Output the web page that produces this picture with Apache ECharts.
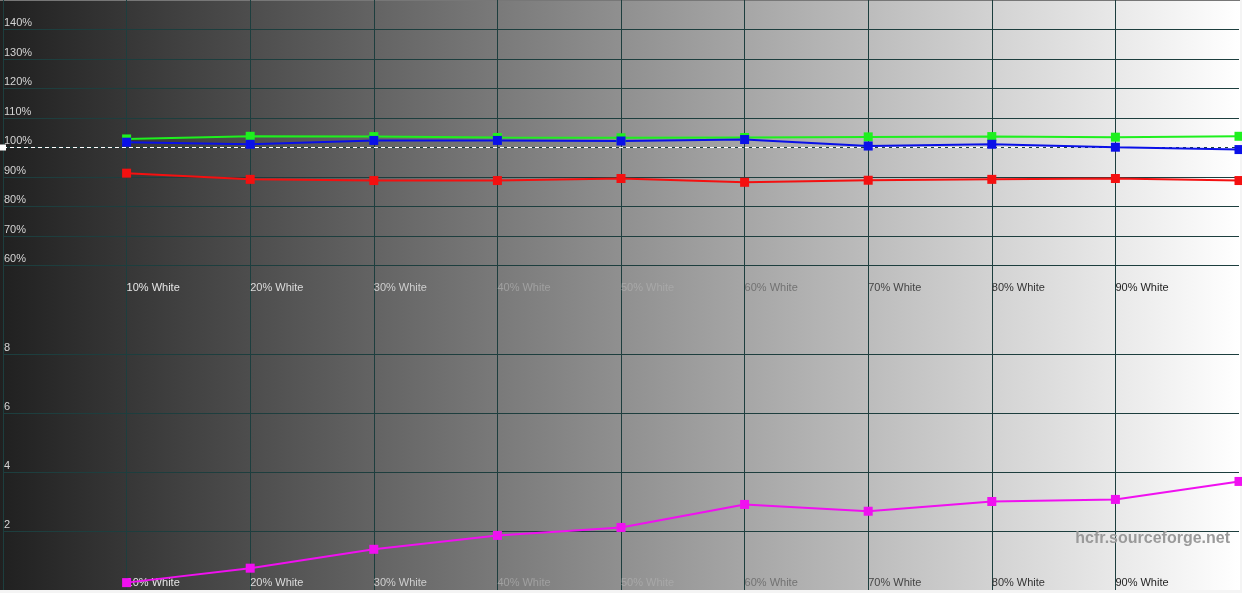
<!DOCTYPE html>
<html>
<head>
<meta charset="utf-8">
<script src="https://cdn.jsdelivr.net/npm/echarts@6/dist/echarts.min.js"></script>
<style>
html,body{margin:0;padding:0;background:#f4f4f4;}
#chart{width:1242px;height:593px;}
</style>
</head>
<body>
<div id="chart"></div>
<script>
// ---- data ----
var levels = [10, 20, 30, 40, 50, 60, 70, 80, 90, 100];
var levelLabels = ['10% White','20% White','30% White','40% White','50% White','60% White','70% White','80% White','90% White'];
var redPct   = [91.3, 89.2, 88.8, 88.8, 89.5, 88.2, 88.9, 89.2, 89.5, 88.8];
var greenPct = [102.9, 103.8, 103.7, 103.4, 103.3, 103.4, 103.6, 103.7, 103.5, 103.8];
var bluePct  = [101.8, 101.1, 102.4, 102.4, 102.2, 102.7, 100.5, 101.1, 100.1, 99.3];
var deltaE   = [0.25, 0.74, 1.38, 1.85, 2.12, 2.9, 2.67, 3.0, 3.07, 3.68];
var refLine  = [100, 100];
var pctTicks = [60, 70, 80, 90, 100, 110, 120, 130, 140];
var deTicks  = [2, 4, 6, 8];

var labelColors = ['#e6e6e6','#dcdcdc','#cfcfcf','#a0a0a0','#a8a8a8','#727272','#454545','#333333','#1e1e1e'];

function pts(arr){ return levels.map(function(x,i){ return [x, arr[i]]; }); }

var rich = {};
labelColors.forEach(function(c,i){ rich['c'+i] = {color:c, fontSize:11, fontFamily:'Liberation Sans, Arial, sans-serif'}; });

function xLabelFmt(v){
  var i = levels.indexOf(v);
  if (i < 0 || i >= levelLabels.length) return '';
  return '{c'+i+'|'+levelLabels[i]+'}';
}

var gridLine = {show:true, showMinLine:true, showMaxLine:false, lineStyle:{color:'#1d3e3e', width:1}};

var chart = echarts.init(document.getElementById('chart'), null, {renderer:'canvas'});
function mkSeries(name, arr, color, xi, yi){
  return {
    name:name, type:'line', xAxisIndex:xi, yAxisIndex:yi,
    data: pts(arr), symbol:'rect', symbolSize:9, showSymbol:true,
    lineStyle:{width:2, color:color}, itemStyle:{color:color},
    silent:true, animation:false, z:5
  };
}

var option = {
  animation:false,
  backgroundColor:'transparent',
  graphic:[
    {type:'rect', z:-10, silent:true, shape:{x:0,y:0,width:1240,height:590},
     style:{fill:new echarts.graphic.LinearGradient(0,0,1,0,[{offset:0,color:'#202020'},{offset:1,color:'#ffffff'}])}},
    {type:'rect', z:-9, silent:true, shape:{x:0,y:0,width:1240,height:1}, style:{fill:'#777777'}},
    {type:'text', z:20, silent:true, right:12, top:531,
     style:{text:'hcfr.sourceforge.net', fill:'#9a9a9a', font:'bold 16px "Liberation Sans", Arial, sans-serif'}}
  ],
  grid:[
    {left:0, right:2, top:0, height:295, containLabel:false},
    {left:0, right:2, top:295, height:295, containLabel:false}
  ],
  xAxis:[0,1].map(function(gi){
    return {
      type:'value', gridIndex:gi, min:0, max:100, interval:10,
      axisLine:{show:false}, axisTick:{show:false},
      splitLine:gridLine,
      axisLabel:{show:true, inside:true, align:'left', verticalAlign:'bottom', margin:2, padding:[0,0,0,0],
                 formatter:xLabelFmt, rich:rich, showMinLabel:true, showMaxLabel:true}
    };
  }),
  yAxis:[
    {type:'value', gridIndex:0, min:50, max:150, interval:10,
     axisLine:{show:false}, axisTick:{show:false},
     splitLine:{show:true, showMinLine:false, showMaxLine:false, lineStyle:{color:'#1d3e3e', width:1}},
     axisLabel:{inside:true, align:'left', verticalAlign:'bottom', margin:1, padding:[0,0,1,0],
                color:'#d4d4d4', fontSize:11, fontFamily:'Liberation Sans, Arial, sans-serif',
                formatter:function(v){ return pctTicks.indexOf(v)>=0 ? v+'%' : ''; }}},
    {type:'value', gridIndex:1, min:0, max:10, interval:2,
     axisLine:{show:false}, axisTick:{show:false},
     splitLine:{show:true, showMinLine:false, showMaxLine:false, lineStyle:{color:'#1d3e3e', width:1}},
     axisLabel:{inside:true, align:'left', verticalAlign:'bottom', margin:1, padding:[0,0,1,0],
                color:'#d4d4d4', fontSize:11, fontFamily:'Liberation Sans, Arial, sans-serif',
                formatter:function(v){ return deTicks.indexOf(v)>=0 ? String(v) : ''; }}}
  ],
  series:[
    {type:'line', xAxisIndex:0, yAxisIndex:0, silent:true, z:3,
     data:[{value:[0,refLine[0]], symbol:'rect', symbolSize:[6,6]}, {value:[100,refLine[1]], symbol:'none'}],
     showSymbol:true, itemStyle:{color:'#ffffff'},
     lineStyle:{color:'#ffffff', width:1, type:[4,3]}},
    mkSeries('Red', redPct, '#f41010', 0, 0),
    mkSeries('Green', greenPct, '#1ef01e', 0, 0),
    mkSeries('Blue', bluePct, '#0a10e8', 0, 0),
    mkSeries('DeltaE', deltaE, '#f010f0', 1, 1)
  ]
};
chart.setOption(option);
</script>
</body>
</html>
